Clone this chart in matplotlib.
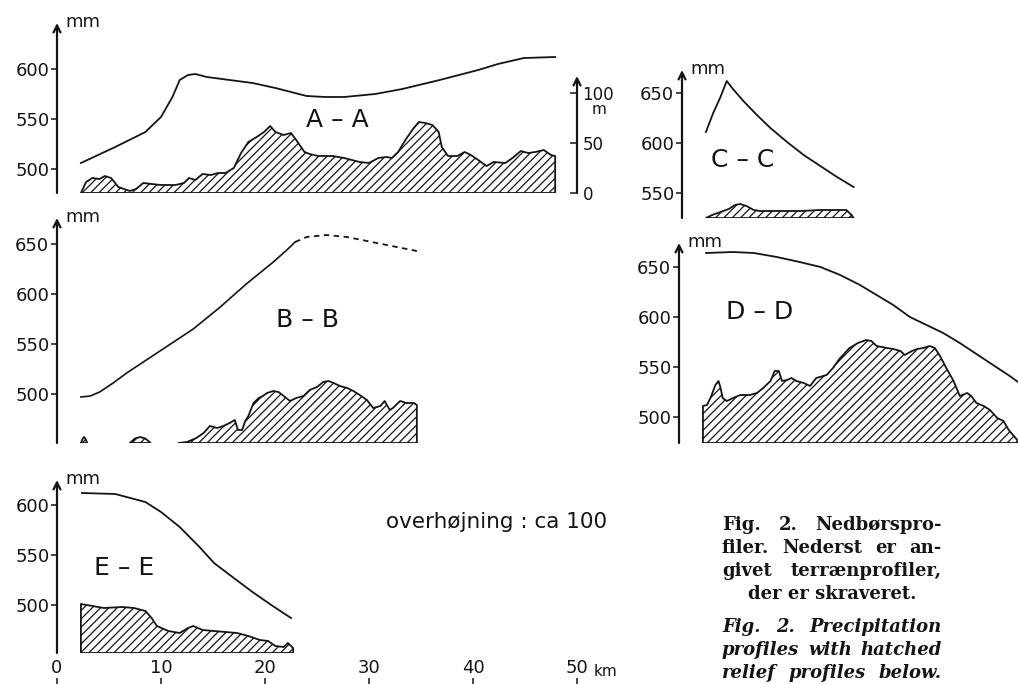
import matplotlib
matplotlib.use("Agg")
import matplotlib.pyplot as plt
import numpy as np

W, H, DPI = 1018, 684, 100
PX_PER_KM = 10.4          # horizontal scale shared by all profiles
INK = "#141414"

plt.rcParams["font.family"] = ["DejaVu Sans"]
plt.rcParams["hatch.linewidth"] = 0.9

# ---------------- data (km along profile, precipitation mm, relief m) ----------------
# A - A
a_km = [2.3, 5.6, 8.5, 10.0, 11.1, 11.8, 12.6, 13.3, 14.4, 16.6, 18.8, 21.0, 24.0, 25.8,
        27.6, 30.6, 33.2, 36.8, 40.5, 42.4, 44.9, 47.9]
a_mm = [506, 522, 537, 552, 572, 589, 594, 595, 592, 589, 586, 581, 573, 572,
        572, 575, 580, 589, 599, 605, 611, 612]
a_relief_km = [2.3, 2.8, 3.4, 4.1, 4.6, 5.2, 5.9, 7.0, 7.6, 8.3, 9.1, 10.0, 11.4, 12.2,
               12.7, 13.3, 14.0, 14.8, 15.5, 16.2, 17.0, 17.7, 18.4, 19.2, 19.9, 20.5,
               21.0, 21.8, 22.5, 23.0, 23.8, 24.3, 25.1, 26.5, 27.6, 29.1, 30.0, 30.9,
               31.7, 32.2, 32.8, 33.5, 34.3, 34.8, 35.4, 36.1, 36.7, 37.0, 37.6, 38.5,
               39.2, 39.8, 40.5, 41.3, 42.0, 43.1, 43.8, 44.6, 45.3, 46.0, 46.8, 47.5, 47.9]
a_relief_m = [0, 11, 15, 14, 17, 15, 6, 2, 4, 10, 9, 8, 8, 10,
              15, 13, 19, 18, 20, 20, 25, 40, 51, 56, 61, 67,
              61, 58, 60, 53, 41, 39, 37, 37, 35, 31, 30, 35,
              36, 35, 41, 53, 65, 71, 70, 68, 61, 46, 37, 37,
              41, 38, 33, 27, 31, 30, 35, 42, 40, 41, 43, 38, 37]

# B - B (solid part, then dashed continuation)
b_km = [2.3, 3.2, 4.1, 5.4, 6.7, 8.3, 9.9, 11.5, 13.1, 14.4, 15.7, 17.0, 18.2, 19.5,
        20.8, 22.1, 22.9]
b_mm = [497, 498, 502, 511, 521, 532, 543, 554, 565, 576, 587, 599, 610, 621,
        632, 644, 652]
b_dash_km = [22.9, 24.0, 25.9, 27.9, 29.8, 31.7, 34.6]
b_dash_mm = [652, 657, 659, 657, 653, 649, 643]
b_relief_km = [11.7, 12.5, 13.4, 14.1, 14.7, 15.4, 16.0, 16.6, 17.1, 17.4, 17.8, 18.1,
               18.4, 18.9, 19.4, 19.8, 20.2, 20.8, 21.3, 21.8, 22.4, 23.0, 23.7, 24.3,
               25.0, 25.6, 26.1, 26.6, 27.2, 27.9, 28.5, 29.1, 29.8, 30.4, 31.1, 31.5,
               32.0, 32.3, 33.0, 33.6, 34.3, 34.6]
b_relief_m = [0, 1, 5, 10, 17, 15, 17, 20, 23, 13, 13, 22,
              27, 40, 45, 47, 50, 52, 51, 47, 42, 45, 47, 53,
              56, 61, 62, 60, 57, 55, 52, 48, 43, 35, 37, 42,
              33, 35, 42, 40, 40, 38]
b_hill1_km = [2.3, 2.45, 2.6, 2.75, 2.9]
b_hill1_m = [0, 4, 6, 4, 0]
b_hill2_km = [7.0, 7.5, 8.0, 8.5, 9.0]
b_hill2_m = [0, 4.5, 6, 4.5, 0]

# C - C
c_km = [2.3, 3.0, 3.7, 4.3, 4.9, 5.9, 7.2, 8.5, 10.1, 11.7, 13.3, 14.9, 16.5]
c_mm = [611, 630, 646, 662, 654, 642, 628, 615, 601, 588, 577, 566, 556]
c_relief_km = [2.3, 2.9, 3.7, 4.5, 5.1, 5.6, 6.2, 6.9, 7.5, 9.4, 11.4, 13.3, 14.2,
               15.2, 15.8, 16.3, 16.5]
c_relief_m = [0, 3, 6, 9, 13, 14, 12, 8, 7, 7, 7, 8, 8, 8, 8, 3, 0]

# D - D
d_km = [2.6, 5.2, 7.2, 9.4, 11.6, 13.6, 15.5, 17.4, 19.0, 20.6, 22.2, 23.8, 25.4,
        27.0, 28.6, 30.2, 31.8, 32.6]
d_mm = [664, 665, 664, 660, 655, 650, 642, 632, 622, 612, 600, 592, 584,
        574, 563, 552, 541, 535]
d_relief_km = [2.3, 2.7, 3.1, 3.5, 3.8, 4.0, 4.2, 4.6, 5.2, 5.9, 6.8, 7.5, 8.1, 8.8,
               9.2, 9.6, 9.9, 10.4, 10.8, 11.3, 12.0, 12.6, 13.2, 14.2, 14.8, 15.5,
               16.4, 17.2, 18.0, 18.5, 19.0, 20.0, 20.6, 21.3, 21.7, 22.4, 22.9, 23.5,
               24.1, 24.6, 25.1, 25.7, 26.4, 27.0, 27.7, 28.1, 28.6, 29.3, 29.9, 30.6,
               31.2, 31.7, 32.2, 32.6]
d_relief_m = [37, 38, 47, 58, 62, 55, 45, 42, 45, 48, 48, 50, 55, 62,
              72, 72, 62, 63, 65, 62, 60, 57, 65, 68, 75, 85,
              95, 100, 103, 102, 97, 95, 94, 92, 88, 92, 94, 95,
              97, 95, 87, 75, 62, 47, 50, 47, 40, 37, 33, 25,
              22, 13, 7, 2]

# E - E
e_km = [2.4, 5.6, 8.5, 10.0, 11.8, 13.7, 15.1, 17.0, 18.8, 20.6, 22.5]
e_mm = [612, 611, 603, 593, 578, 558, 542, 527, 513, 500, 487]
e_relief_km = [2.3, 3.4, 4.5, 6.3, 7.4, 8.5, 9.1, 9.6, 10.7, 11.8, 12.6, 13.1, 14.0,
               15.1, 16.2, 17.3, 18.4, 19.5, 20.3, 21.0, 21.8, 22.2, 22.7, 22.7]
e_relief_m = [49, 47, 45, 46, 45, 42, 35, 27, 22, 20, 25, 27, 23,
              22, 21, 20, 17, 13, 12, 7, 6, 10, 5, 0]

km_ticks = [0, 10, 20, 30, 40, 50]

caption_dk = [["Fig.", "2.", "Nedbørspro-"],
              ["filer.", "Nederst", "er", "an-"],
              ["givet", "terrænprofiler,"],
              ["der er skraveret."]]
caption_en = [["Fig.", "2.", "Precipitation"],
              ["profiles", "with", "hatched"],
              ["relief", "profiles", "below."]]


def fx(x):
    return x / W


def fy(y):
    return 1 - y / H


def panel(fig, x0, y_bottom, mm_bottom, mm_top, km_right, yticks):
    # 1 px per mm vertically, PX_PER_KM horizontally
    ax = fig.add_axes([fx(x0), fy(y_bottom), km_right * PX_PER_KM / W,
                       (mm_top - mm_bottom) / H])
    ax.set_xlim(0, km_right)
    ax.set_ylim(mm_bottom, mm_top)
    ax.patch.set_visible(False)
    for s in ax.spines.values():
        s.set_visible(False)
    ax.set_xticks([])
    ax.set_yticks(yticks)
    ax.tick_params(axis="y", direction="out", length=4, width=1.1, pad=1.5,
                   labelsize=13, colors=INK)
    ax.annotate("", xy=(0, 1), xytext=(0, 0), xycoords="axes fraction",
                arrowprops=dict(arrowstyle="->,head_length=0.5,head_width=0.25",
                                lw=1.6, color=INK, shrinkA=0, shrinkB=0))
    ax.annotate("mm", xy=(0, 1), xycoords="axes fraction", xytext=(6, 1),
                textcoords="offset points", ha="left", va="center",
                fontsize=13, color=INK)
    return ax


def relief(ax, km, m):
    base = ax.get_ylim()[0]
    ax.fill_between(km, base, base + np.asarray(m, dtype=float), facecolor="white",
                    edgecolor=INK, hatch="////", lw=1.3, zorder=2)


fig = plt.figure(figsize=(W / DPI, H / DPI), dpi=DPI)

# A - A with its own relief scale in metres on the right
ax_a = panel(fig, 57, 193, 476, 646, 50, [500, 550, 600])
ax_a.plot(a_km, a_mm, color=INK, lw=1.3)
ax_m = ax_a.twinx()
ax_m.set_ylim(0, 170)
for s in ax_m.spines.values():
    s.set_visible(False)
ax_m.set_yticks([0, 50, 100])
ax_m.tick_params(axis="y", direction="in", length=5, width=1.1, pad=4,
                 labelsize=12, colors=INK)
ax_m.annotate("", xy=(1, 117), xytext=(1, 0), xycoords=ax_m.get_yaxis_transform(),
              arrowprops=dict(arrowstyle="->,head_length=0.5,head_width=0.25",
                              lw=1.6, color=INK, shrinkA=0, shrinkB=0))
ax_m.fill_between(a_relief_km, 0, a_relief_m, facecolor="white", edgecolor=INK,
                  hatch="////", lw=1.3)
fig.text(fx(599), fy(110), "m", ha="center", va="center", fontsize=11, color=INK)

# B - B
ax_b = panel(fig, 57, 443, 451, 676, 36, [500, 550, 600, 650])
ax_b.plot(b_km, b_mm, color=INK, lw=1.2)
ax_b.plot(b_dash_km, b_dash_mm, color=INK, lw=1.3, linestyle=(0, (3, 2.5)))
relief(ax_b, b_relief_km, b_relief_m)
relief(ax_b, b_hill1_km, b_hill1_m)
relief(ax_b, b_hill2_km, b_hill2_m)

# C - C
ax_c = panel(fig, 682, 218, 525, 673, 17.5, [550, 600, 650])
ax_c.plot(c_km, c_mm, color=INK, lw=1.3)
relief(ax_c, c_relief_km, c_relief_m)

# D - D (runs off the right edge)
ax_d = panel(fig, 679, 443, 474, 674, (W - 679) / PX_PER_KM, [500, 550, 600, 650])
ax_d.plot(d_km, d_mm, color=INK, lw=1.3)
relief(ax_d, d_relief_km, d_relief_m)

# E - E
ax_e = panel(fig, 57, 653, 452, 625, 24, [500, 550, 600])
ax_e.plot(e_km, e_mm, color=INK, lw=1.3)
relief(ax_e, e_relief_km, e_relief_m)

# profile names
for label, (x, y) in {"A – A": (337, 120), "B – B": (307, 320), "C – C": (743, 160),
                      "D – D": (760, 312), "E – E": (124, 568)}.items():
    fig.text(fx(x), fy(y), label, ha="center", va="center", fontsize=18, color=INK)

fig.text(fx(386), fy(522), "overhøjning : ca 100", ha="left", va="center",
         fontsize=15.5, color=INK)

# km scale along the bottom
ax_s = fig.add_axes([fx(57), fy(684), 52 * PX_PER_KM / W, 6 / H])
ax_s.set_xlim(0, 52)
ax_s.patch.set_visible(False)
for s in ax_s.spines.values():
    s.set_visible(False)
ax_s.set_yticks([])
ax_s.set_xticks(km_ticks)
ax_s.set_xticklabels([str(k) for k in km_ticks])
ax_s.tick_params(axis="x", direction="in", length=6, width=1.1, pad=1, labelsize=13,
                 top=True, labeltop=True, bottom=False, labelbottom=False, colors=INK)
fig.text(fx(594), fy(671), "km", ha="left", va="center", fontsize=11, color=INK)

# caption, justified between two margins
left, right = 722, 942
serif = dict(family="DejaVu Serif", weight="bold", fontsize=13, color=INK)
lines = []
for i, words in enumerate(caption_dk):
    texts = [fig.text(0, 0, w, va="baseline", **serif) for w in words]
    lines.append((texts, 530 + 23 * i))
for i, words in enumerate(caption_en):
    texts = [fig.text(0, 0, w, va="baseline", style="italic", **serif) for w in words]
    lines.append((texts, 632 + 23 * i))

fig.canvas.draw()
renderer = fig.canvas.get_renderer()
for texts, y in lines:
    widths = [t.get_window_extent(renderer).width for t in texts]
    if len(texts) == 1:
        x = (left + right) / 2 - widths[0] / 2
        texts[0].set_position((fx(x), fy(y)))
        continue
    gap = max((right - left - sum(widths)) / (len(texts) - 1), 5)
    x = left
    for t, w in zip(texts, widths):
        t.set_position((fx(x), fy(y)))
        x += w + gap

fig.savefig("out.png", dpi=DPI)
